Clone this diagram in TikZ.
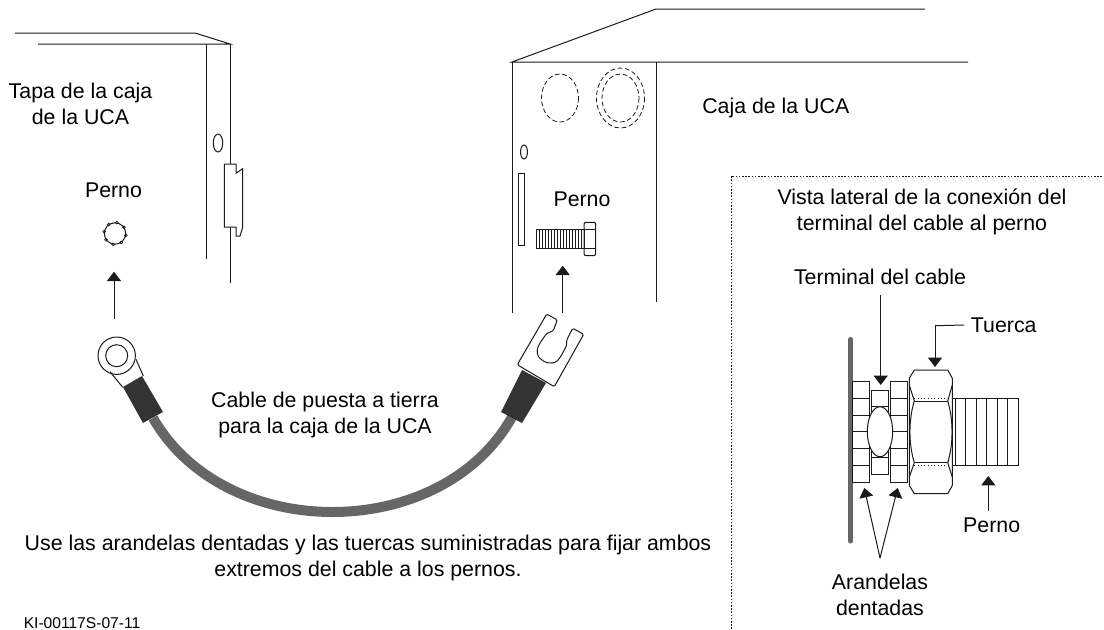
\documentclass[tikz,border=0pt]{standalone}
\usepackage{fontspec}
\setmainfont{Liberation Sans}
\usepackage{xcolor}
\usetikzlibrary{calc,arrows.meta}
\definecolor{linea}{HTML}{1A1A1A}
\definecolor{cable}{HTML}{666666}
\definecolor{funda}{HTML}{333333}
\tikzset{
  pieza/.style={color=linea,line width=0.75pt},
  oculto/.style={color=linea,line width=0.6pt,dash pattern=on 3.5pt off 2pt},
  flecha/.style={color=linea,line width=0.75pt,-{Triangle[length=7pt,width=10.5pt]}},
  rotulo/.style={color=black,inner sep=0pt,align=center,font=\fontsize{16}{19.5}\selectfont},
  codigo/.style={color=black,inner sep=0pt,font=\fontsize{11.7}{14}\selectfont}
}
\newcommand{\Arandela}[1]{%
  \draw[pieza] (#1,381.7) rectangle (#1+17,482);
  \foreach \yy in {398.3,415.3,431.7,448.3,465.3}
    \draw[pieza] (#1,\yy) -- (#1+17,\yy);
}
\begin{document}
\begin{tikzpicture}[x=0.75pt,y=-0.75pt]
  \useasboundingbox (0,0) rectangle (1104,629);
  % tapa
  \draw[pieza] (15,33) -- (195,33) -- (230,44) -- (38,44);
  \draw[pieza] (206,44) -- (206,259);
  \draw[pieza] (230.5,44) -- (230.5,164);
  \draw[pieza] (230.5,227) -- (230.5,283);
  \draw[pieza] (224.3,164) -- (236,164) -- (236,173.3) -- (242.7,168.7) -- (242.7,227.3) -- (240,236) -- (236,236) -- (236,227) -- (224.3,227) -- cycle;
  \draw[pieza] (218,143) ellipse [x radius=4.7,y radius=9];
  \draw[pieza] (115,233.5) circle (10.7);
  \foreach \aa in {0,45,...,315}
    \draw[pieza,line width=0.5pt] ($(115,233.5)+(\aa+10:11)$) circle (1.4);
  % caja
  \draw[pieza] (968,62) -- (512,62) -- (656,9) -- (925,9);
  \draw[pieza] (512,62) -- (512,313);
  \draw[pieza] (656,62) -- (656,301.5);
  \draw[oculto] (560,98) ellipse [x radius=18.5,y radius=24];
  \draw[oculto] (620.5,98) ellipse [x radius=18.5,y radius=24];
  \draw[oculto] (620.5,98) ellipse [x radius=24,y radius=30];
  \draw[pieza] (524,152) ellipse [x radius=3.5,y radius=7];
  \draw[pieza] (518,173) rectangle (524,245);
  % perno de la caja
  \draw[pieza] (536,229.3) rectangle (584,248.3);
  \foreach \xx in {539,542,...,581}
    \draw[pieza,line width=0.5pt] (\xx,229.3) -- (\xx,248.3);
  \draw[pieza,rounded corners=1.5pt] (584,222.3) rectangle (595.7,255.7);
  \draw[pieza] (584,229.3) -- (595.7,229.3);
  \draw[pieza] (584,248.3) -- (595.7,248.3);
  % cable
  \draw[color=cable,line width=7.5pt] (153,418) .. controls (225,543.5) and (441,543.5) .. (512,417);
  \fill[color=funda] (123,387) -- (142,376) -- (163,412) -- (143,423) -- cycle;
  \fill[color=funda] (522,370) -- (546,383) -- (522,423) -- (501,412) -- cycle;
  % terminal de anillo
  \draw[pieza] (110,371.7) -- (122.7,387.3);
  \draw[pieza] (136,359.3) -- (143.3,376);
  \draw[pieza] (116.7,355.7) circle (18.7);
  \draw[pieza] (116.7,355.7) circle (11);
  % terminal de horquilla
  \draw[pieza,rounded corners=1pt] (517.3,364.7) -- (546.7,314) -- (557.3,320) -- (553.3,330.7) -- (547,333.3) .. controls (541,341) and (537,347) .. (537.3,352) .. controls (538,360) and (548,364) .. (553.3,362.7) .. controls (558,362) and (563,353) .. (566.7,345) -- (566.7,340) -- (572.7,328.3) -- (583.7,334.3) -- (554.3,386.7) -- cycle;
  % panel lateral
  \draw[color=linea,line width=0.6pt,dash pattern=on 1.2pt off 1.2pt] (731,629) -- (731,176) -- (1104,176);
  \draw[color=cable,line width=3.8pt,line cap=round] (850.7,339.5) -- (850.7,541);
  \Arandela{852.3}
  \Arandela{890.5}
  \draw[pieza] (871.7,390) rectangle (888.3,474);
  \draw[pieza] (871.7,406.7) -- (888.3,406.7);
  \draw[pieza] (871.7,457.3) -- (888.3,457.3);
  \draw[pieza,fill=white] (880,431.7) ellipse [x radius=12.7,y radius=25];
  % tuerca
  \draw[pieza] (909.3,378.3) -- (914.3,370) -- (947.7,370) -- (952.3,378.3) -- (952.3,485.5) -- (947.7,493.7) -- (914.3,493.7) -- (909.3,485.5) -- cycle;
  \draw[pieza,line width=0.5pt,dotted] (914.3,398) -- (947.7,398);
  \draw[pieza,line width=0.5pt,dotted] (914.3,465.3) -- (947.7,465.3);
  \draw[pieza] (914.3,401) -- (947.7,401);
  \draw[pieza] (914.3,462.7) -- (947.7,462.7);
  \draw[pieza] (909.3,385) -- (914.3,401) .. controls (908.5,420) and (908.5,444) .. (914.3,462.7) -- (909.3,477);
  \draw[pieza] (952.3,385) -- (947.7,401) .. controls (953.5,420) and (953.5,444) .. (947.7,462.7) -- (952.3,477);
  % rosca
  \draw[pieza] (952.3,398) -- (1018,398) -- (1018,465) -- (952.3,465);
  \foreach \xx in {955,965.7,976,986.7,997,1007.7}
    \draw[pieza] (\xx,398) -- (\xx,465);
  % textos
  \node[rotulo] (tapa) at (80.5,104) {Tapa de la caja\\de la UCA};
  \node[rotulo] (pernotapa) at (113.5,190) {Perno};
  \node[rotulo,anchor=west] (caja) at (702,108) {Caja de la UCA};
  \node[rotulo] (pernocaja) at (582,199) {Perno};
  \node[rotulo] (vista) at (922,212) {Vista lateral de la conexión del\\terminal del cable al perno};
  \node[rotulo] (terminal) at (880,277) {Terminal del cable};
  \node[rotulo,anchor=west] (tuerca) at (970.7,325) {Tuerca};
  \node[rotulo] (pernolat) at (991.7,525) {Perno};
  \node[rotulo] (arandelas) at (880,595) {Arandelas\\dentadas};
  \node[rotulo] (cabletxt) at (325,415) {Cable de puesta a tierra\\para la caja de la UCA};
  \node[rotulo] (uso) at (368,558) {Use las arandelas dentadas y las tuercas suministradas para fijar ambos\\extremos del cable a los pernos.};
  \node[codigo,anchor=west] (clave) at (23.5,623) {KI-00117S-07-11};
  % flechas
  \coordinate (P1) at (114,319);
  \coordinate (P1t) at (114,271.7);
  \coordinate (P2) at (562.7,313);
  \coordinate (P2t) at (562.7,265.7);
  \coordinate (T1) at (880.7,295);
  \coordinate (T1t) at (880.7,385);
  \coordinate (T2) at (935,325.7);
  \coordinate (T2t) at (935,367);
  \coordinate (P3) at (988.3,510.7);
  \coordinate (P3t) at (988.3,476);
  \coordinate (A0) at (880,558);
  \coordinate (A1t) at (864.3,488);
  \coordinate (A2t) at (897.7,488);
  \draw[flecha] (P1) -- (P1t);
  \draw[flecha] (P2) -- (P2t);
  \draw[flecha] (T1) -- (T1t);
  \draw[pieza] ($(tuerca.west)+(-6.5,0)$) -- (T2);
  \draw[flecha] (T2) -- (T2t);
  \draw[flecha] (P3) -- (P3t);
  \draw[flecha] (A0) -- (A1t);
  \draw[flecha] (A0) -- (A2t);
\end{tikzpicture}
\end{document}
